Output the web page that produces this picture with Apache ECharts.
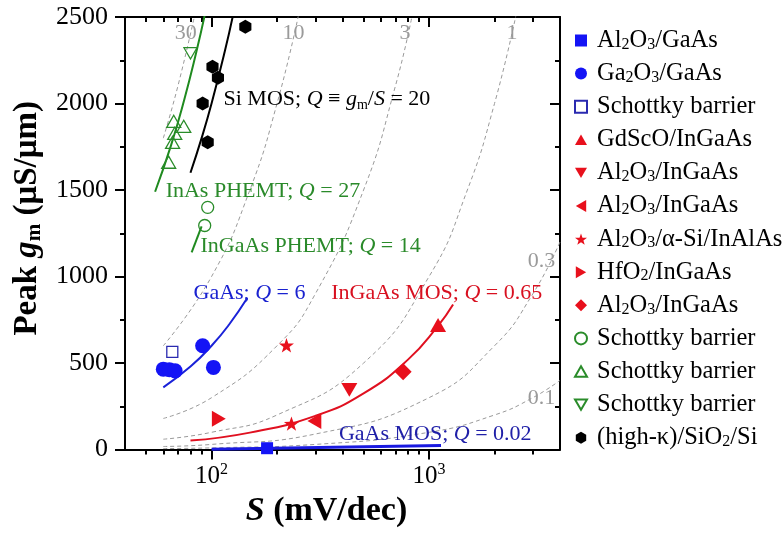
<!DOCTYPE html>
<html><head><meta charset="utf-8">
<script src="https://cdn.jsdelivr.net/npm/echarts@6/dist/echarts.min.js"></script>
<style>html,body{margin:0;padding:0;background:#fff}#c{width:783px;height:533px}</style>
</head><body><div id="c"></div>
<script>
// ---- axis ticks ----
const xMajorTicks = [100, 1000];
const xMinorTicks = [50, 60, 70, 80, 90, 200, 300, 400, 500, 600, 700, 800, 900, 2000, 3000];
const yTicks = [0, 500, 1000, 1500, 2000, 2500];

// ---- measured points [S (mV/dec), peak gm (uS/um)] ----
const al2o3GaAs = [[180, 8]];
const ga2o3GaAs = [[60, 465], [64, 462], [68, 455], [91, 600], [102, 475]];
const schottkyBlueSq = [[66, 565]];
const gdscoInGaAs = [[1100, 720]];
const al2o3InGaAsDown = [[430, 345]];
const al2o3InGaAsLeft = [[297, 165]];
const al2o3SiInAlAs = [[221, 603], [233, 150]];
const hfo2InGaAs = [[108, 178]];
const al2o3InGaAsDiamond = [[760, 450]];
const schottkyCircle = [[96, 1400], [93, 1295]];
const schottkyUp = [[67, 1897], [74.5, 1868], [67.7, 1828], [66.2, 1776], [63.5, 1661]];
const schottkyDown = [[80, 2290]];
const highKSi = [[143, 2443], [101, 2213], [107, 2149], [91, 2000], [96, 1776]];

// ---- fitted Q lines ----
const fitSiMOS = [[80, 1600], [90, 1800], [100, 2000], [115, 2300], [126, 2520]];
const fitInAsPHEMT = [[55, 1490], [65, 1755], [75, 2025], [85, 2295], [93, 2510]];
const fitInGaAsPHEMT = [[81, 1140], [90, 1290]];
const fitGaAs = [[60, 360], [80, 480], [100, 600], [120, 720], [146, 876]];
const fitInGaAsMOS = [[80, 52], [150, 98], [300, 195], [500, 325], [800, 520], [1100, 715], [1290, 838]];
const fitGaAsMOS = [[100, 2], [1135, 23]];

// ---- grey iso-Q guide lines ----
const isoQ30 = [[60, 1800], [70, 2100], [84, 2520]];
const isoQ10 = [[60, 600], [100, 1000], [150, 1500], [200, 2000], [252, 2520]];
const isoQ3 = [[60, 180], [100, 300], [200, 600], [300, 900], [500, 1500], [700, 2100], [840, 2520]];
const isoQ1 = [[60, 60], [100, 100], [200, 200], [500, 500], [1000, 1000], [1500, 1500], [2000, 2000], [2520, 2520]];
const isoQ03 = [[60, 18], [100, 30], [300, 90], [1000, 300], [2000, 600], [3000, 900], [4000, 1200]];
const isoQ01 = [[60, 6], [100, 10], [300, 30], [1000, 100], [2000, 200], [3000, 300], [4000, 400]];

const FONT = 'Liberation Serif';
function rich(size, bold, lh) {
  const w = bold ? 'bold' : 'normal';
  return {
    t: {fontFamily: FONT, fontSize: size, fontWeight: w, lineHeight: lh},
    i: {fontFamily: FONT, fontSize: size, fontWeight: w, fontStyle: 'italic', lineHeight: lh},
    s: {fontFamily: FONT, fontSize: Math.round(size * 0.65), fontWeight: w, lineHeight: lh - 0.6 * size, verticalAlign: 'bottom'},
    p: {fontFamily: FONT, fontSize: Math.round(size * 0.65), fontWeight: w, lineHeight: lh - 0.7 * size, verticalAlign: 'top'}
  };
}

const BLUE = '#1414f5', RED = '#e8101c', GREEN = '#2a8c2a', NAVY = '#2a2ab0', GREY = '#9a9a9a';
const STAR = 'path://M0,-10 L2.35,-3.24 L9.51,-3.09 L3.8,1.24 L5.88,8.09 L0,4 L-5.88,8.09 L-3.8,1.24 L-9.51,-3.09 L-2.35,-3.24 Z';
const HEX = 'path://M0,-10 L8.66,-5 L8.66,5 L0,10 L-8.66,5 L-8.66,-5 Z';
const TRI_UP = 'path://M0,-8.66 L10,8.66 L-10,8.66 Z';
const TRI_DOWN = 'path://M-10,-8.66 L10,-8.66 L0,8.66 Z';
const TRI_LEFT = 'path://M-8.66,0 L8.66,-10 L8.66,10 Z';
const TRI_RIGHT = 'path://M8.66,0 L-8.66,-10 L-8.66,10 Z';
const SQUARE = 'path://M-10,-10 L10,-10 L10,10 L-10,10 Z';
const DIAMOND = 'path://M0,-10 L10,0 L0,10 L-10,0 Z';

const legendText = {
  'Al2O3/GaAs': '{t|Al}{s|2}{t|O}{s|3}{t|/GaAs}',
  'Ga2O3/GaAs': '{t|Ga}{s|2}{t|O}{s|3}{t|/GaAs}',
  'Schottky barrier A': '{t|Schottky barrier}',
  'GdScO/InGaAs': '{t|GdScO/InGaAs}',
  'Al2O3/InGaAs A': '{t|Al}{s|2}{t|O}{s|3}{t|/InGaAs}',
  'Al2O3/InGaAs B': '{t|Al}{s|2}{t|O}{s|3}{t|/InGaAs}',
  'Al2O3/a-Si/InAlAs': '{t|Al}{s|2}{t|O}{s|3}{t|/α-Si/InAlAs}',
  'HfO2/InGaAs': '{t|HfO}{s|2}{t|/InGaAs}',
  'Al2O3/InGaAs C': '{t|Al}{s|2}{t|O}{s|3}{t|/InGaAs}',
  'Schottky barrier B': '{t|Schottky barrier}',
  'Schottky barrier C': '{t|Schottky barrier}',
  'Schottky barrier D': '{t|Schottky barrier}',
  '(high-k)/SiO2/Si': '{t|(high-κ)/SiO}{s|2}{t|/Si}'
};

function pts(name, data, symbol, size, color, empty) {
  return {
    type: 'scatter', name: name, data: data, symbol: symbol, symbolSize: size,
    symbolKeepAspect: true, z: 5,
    itemStyle: empty ? {color: 'rgba(255,255,255,0)', borderColor: color, borderWidth: 1.3, opacity: 1}
                     : {color: color, borderWidth: 0, opacity: 1}
  };
}
function line(data, color, width, dashed, z) {
  return {
    type: 'line', data: data, symbol: 'none', smooth: true, z: z || 3, silent: true,
    lineStyle: {color: color, width: width, type: dashed ? [4, 3] : 'solid'}
  };
}

const chart = echarts.init(document.getElementById('c'), null, {renderer: 'canvas'});
const logX = {type: 'log', logBase: 10, min: 40, max: 4000, splitLine: {show: false}, gridIndex: 0};
const axisLineStyle = {color: '#000', width: 2};

chart.setOption({
  animation: false,
  backgroundColor: '#fff',
  grid: {left: 125, right: 223, top: 17, bottom: 81},
  xAxis: [
    Object.assign({}, logX, {
      position: 'bottom',
      axisLine: {show: true, lineStyle: axisLineStyle},
      axisTick: {show: true, customValues: xMajorTicks, length: 10, lineStyle: {width: 2, color: '#000'}},
      axisLabel: {show: true, customValues: xMajorTicks, margin: 12, color: '#000',
        formatter: function (v) { const e = Math.round(Math.log10(v)); return '{t|10}{p|' + e + '}'; },
        rich: rich(25, false, 30)},
      name: '{i|S}{t| (mV/dec)}', nameLocation: 'middle', nameGap: 38,
      nameTextStyle: {color: '#000', padding: [0, 32, 0, 0], rich: rich(34, true, 36)}
    }),
    Object.assign({}, logX, {
      position: 'bottom', axisLine: {show: false},
      axisTick: {show: true, customValues: xMinorTicks, length: 5, lineStyle: {width: 2, color: '#000'}},
      axisLabel: {show: false}
    }),
    Object.assign({}, logX, {
      position: 'top', axisLine: {show: true, lineStyle: axisLineStyle},
      axisTick: {show: true, inside: true, customValues: xMajorTicks, length: 10, lineStyle: {width: 2, color: '#000'}},
      axisLabel: {show: false}
    }),
    Object.assign({}, logX, {
      position: 'top', axisLine: {show: false},
      axisTick: {show: true, inside: true, customValues: xMinorTicks, length: 5, lineStyle: {width: 2, color: '#000'}},
      axisLabel: {show: false}
    })
  ],
  yAxis: [
    {type: 'value', min: 0, max: 2500, interval: 500, position: 'left',
      axisLine: {show: true, lineStyle: axisLineStyle},
      axisTick: {show: true, length: 10, lineStyle: {width: 2, color: '#000'}},
      minorTick: {show: true, splitNumber: 2, length: 5, lineStyle: {width: 2, color: '#000'}},
      splitLine: {show: false},
      axisLabel: {margin: 17, color: '#000', fontFamily: FONT, fontSize: 26,
        customValues: yTicks, formatter: function (v) { return String(v); }},
      name: '{t|Peak }{i|g}{s|m}{t| (μS/μm)}', nameLocation: 'middle', nameGap: 79,
      nameTextStyle: {color: '#000', padding: [0, 0, 0, 30], rich: rich(33, true, 36)}
    },
    {type: 'value', min: 0, max: 2500, interval: 500, position: 'right',
      axisLine: {show: true, lineStyle: axisLineStyle},
      axisTick: {show: true, inside: true, length: 10, lineStyle: {width: 2, color: '#000'}},
      minorTick: {show: true, splitNumber: 2, length: 5, lineStyle: {width: 2, color: '#000'}},
      splitLine: {show: false}, axisLabel: {show: false}
    }
  ],
  legend: {
    orient: 'vertical', left: 569, top: 23, itemWidth: 12, itemHeight: 12, itemGap: 8.1,
    symbolKeepAspect: true,
    data: Object.keys(legendText),
    formatter: function (n) { return legendText[n]; },
    textStyle: {color: '#000', padding: [0, 0, 0, 5], rich: rich(24.5, false, 24)},
    selectedMode: false
  },
  series: [
    line(isoQ30, GREY, 1, true, 1), line(isoQ10, GREY, 1, true, 1), line(isoQ3, GREY, 1, true, 1),
    line(isoQ1, GREY, 1, true, 1), line(isoQ03, GREY, 1, true, 1), line(isoQ01, GREY, 1, true, 1),
    line(fitSiMOS, '#000', 2), line(fitInAsPHEMT, '#1f8a1f', 2), line(fitInGaAsPHEMT, '#1f8a1f', 2),
    line(fitGaAs, '#1a22d8', 2), line(fitInGaAsMOS, '#e01020', 2), line(fitGaAsMOS, '#1a1ae0', 3),
    pts('Al2O3/GaAs', al2o3GaAs, SQUARE, 12, BLUE),
    pts('Ga2O3/GaAs', ga2o3GaAs, 'circle', 15, BLUE),
    pts('Schottky barrier A', schottkyBlueSq, SQUARE, 11, NAVY, true),
    pts('GdScO/InGaAs', gdscoInGaAs, TRI_UP, 16, RED),
    pts('Al2O3/InGaAs A', al2o3InGaAsDown, TRI_DOWN, 16, RED),
    pts('Al2O3/InGaAs B', al2o3InGaAsLeft, TRI_LEFT, 16, RED),
    pts('Al2O3/a-Si/InAlAs', al2o3SiInAlAs, STAR, 15, RED),
    pts('HfO2/InGaAs', hfo2InGaAs, TRI_RIGHT, 16, RED),
    pts('Al2O3/InGaAs C', al2o3InGaAsDiamond, DIAMOND, 17, RED),
    pts('Schottky barrier B', schottkyCircle, 'circle', 12, GREEN, true),
    pts('Schottky barrier C', schottkyUp, TRI_UP, 14, GREEN, true),
    pts('Schottky barrier D', schottkyDown, TRI_DOWN, 13, GREEN, true),
    pts('(high-k)/SiO2/Si', highKSi, HEX, 14, '#000')
  ]
});

// ---- text annotations anchored in data coordinates [S, gm] ----
const notes = [
  {text: '{t|Si MOS; }{i|Q}{t| ≡ }{i|g}{s|m}{t|/}{i|S}{t| = 20}', at: [113.5, 2025], color: '#000', align: 'left', size: 22},
  {text: '{t|InAs PHEMT; }{i|Q}{t| = 27}', at: [61.5, 1494], color: '#2a8a2a', align: 'left', size: 22},
  {text: '{t|InGaAs PHEMT; }{i|Q}{t| = 14}', at: [89, 1178], color: '#2a8a2a', align: 'left', size: 22},
  {text: '{t|GaAs; }{i|Q}{t| = 6}', at: [82.6, 905], color: '#1a22d0', align: 'left', size: 22},
  {text: '{t|InGaAs MOS; }{i|Q}{t| = 0.65}', at: [355, 902], color: '#d81020', align: 'left', size: 22},
  {text: '{t|GaAs MOS; }{i|Q}{t| = 0.02}', at: [385, 88], color: '#2020a8', align: 'left', size: 22},
  {text: '{t|30}', at: [76, 2408], color: GREY, align: 'center', size: 22},
  {text: '{t|10}', at: [238, 2408], color: GREY, align: 'center', size: 22},
  {text: '{t|3}', at: [776, 2408], color: GREY, align: 'center', size: 22},
  {text: '{t|1}', at: [2405, 2408], color: GREY, align: 'center', size: 22},
  {text: '{t|0.3}', at: [3800, 1086], color: GREY, align: 'right', size: 22},
  {text: '{t|0.1}', at: [3800, 299], color: GREY, align: 'right', size: 22}
];
chart.setOption({
  graphic: notes.map(function (n) {
    const p = chart.convertToPixel({xAxisIndex: 0, yAxisIndex: 0}, n.at);
    return {type: 'text', x: p[0], y: p[1], z: 10, silent: true,
      style: {text: n.text, rich: rich(n.size, false, 26), fill: n.color, align: n.align, verticalAlign: 'middle'}};
  })
});
</script>
</body></html>
